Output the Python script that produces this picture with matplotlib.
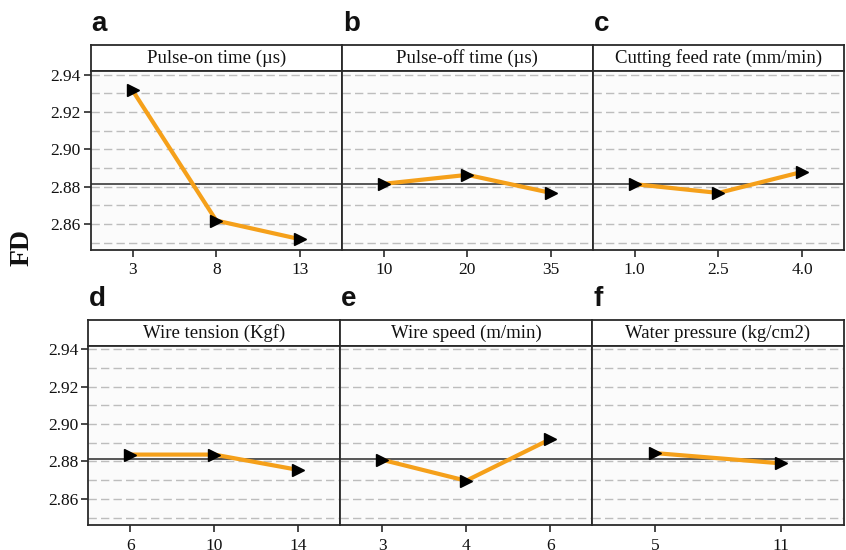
import matplotlib
matplotlib.use("Agg")
import matplotlib.pyplot as plt
import numpy as np

# ---- data ----
titles = ["Pulse-on time (\u00b5s)", "Pulse-off time (\u00b5s)", "Cutting feed rate (mm/min)",
          "Wire tension (Kgf)", "Wire speed (m/min)", "Water pressure (kg/cm2)"]
panel_letters = ["a", "b", "c", "d", "e", "f"]
levels_a = ["3", "8", "13"]
levels_b = ["10", "20", "35"]
levels_c = ["1.0", "2.5", "4.0"]
levels_d = ["6", "10", "14"]
levels_e = ["3", "4", "6"]
levels_f = ["5", "11"]
fd_a = [2.9316, 2.8618, 2.8518]
fd_b = [2.8815, 2.8863, 2.8766]
fd_c = [2.8813, 2.8766, 2.8879]
fd_d = [2.8837, 2.8837, 2.8755]
fd_e = [2.8809, 2.8697, 2.8919]
fd_f = [2.8845, 2.8790]
grand_mean = 2.8813
y_ticks = [2.86, 2.88, 2.90, 2.92, 2.94]
y_grid = [2.85, 2.86, 2.87, 2.88, 2.89, 2.90, 2.91, 2.92, 2.93, 2.94]

levels = [levels_a, levels_b, levels_c, levels_d, levels_e, levels_f]
values = [fd_a, fd_b, fd_c, fd_d, fd_e, fd_f]

W, H = 846, 550
fig = plt.figure(figsize=(W / 100, H / 100), dpi=100)
fig.patch.set_facecolor("white")

serif = ["Liberation Serif", "DejaVu Serif"]
sans = ["Liberation Sans", "DejaVu Sans"]

def px_axes(x0, y0, x1, y1):
    return fig.add_axes([x0 / W, 1 - y1 / H, (x1 - x0) / W, (y1 - y0) / H])

rows = [
    dict(left=90.7, box_top=45, head=71, bottom=250),
    dict(left=88.3, box_top=320, head=345.7, bottom=525),
]
right = 844
edge = "#2a2a2a"

for i in range(6):
    r = rows[i // 3]
    col = i % 3
    pw = (right - r["left"]) / 3
    x0 = r["left"] + col * pw
    x1 = x0 + pw
    # header strip
    hax = px_axes(x0, r["box_top"], x1, r["head"])
    hax.set_xticks([]); hax.set_yticks([])
    hax.set_facecolor("white")
    for s in hax.spines.values():
        s.set_color(edge); s.set_linewidth(1.3)
    hax.text(0.5, 0.5, titles[i], ha="center", va="center", fontsize=13.5,
             family=serif, color="#111111", transform=hax.transAxes)
    # data axes
    ax = px_axes(x0, r["head"], x1, r["bottom"])
    ax.set_facecolor("#fbfbfb")
    for s in ax.spines.values():
        s.set_color(edge); s.set_linewidth(1.3)
    n = len(levels[i])
    xs = np.arange(n)
    ax.set_xlim(-0.5, n - 0.5)
    ax.set_ylim(2.846, 2.942)
    for g in y_grid:
        ax.axhline(g, color="#bdbdbd", lw=1.0, ls=(0, (6, 3)), zorder=1)
    ax.axhline(grand_mean, color="#3a3a3a", lw=1.2, zorder=2)
    ax.plot(xs, values[i], color="#f5a01a", lw=3.0, zorder=3, solid_capstyle="butt")
    ax.plot(xs, values[i], ls="none", marker=">", color="black", markersize=9, zorder=4)
    ax.set_xticks(xs)
    ax.set_xticklabels(levels[i], fontsize=12.5, family=serif, color="#111111")
    ax.tick_params(axis="x", length=5, width=1.2, color=edge, pad=4)
    if col == 0:
        ax.set_yticks(y_ticks)
        ax.set_yticklabels([f"{t:.2f}" for t in y_ticks], fontsize=12.5, family=serif, color="#111111")
        ax.tick_params(axis="y", length=5, width=1.2, color=edge, pad=2)
    else:
        ax.set_yticks([])
    # panel letter
    fig.text((x0 + 1) / W, 1 - (r["box_top"] - 8) / H, panel_letters[i], fontsize=20,
             fontweight="bold", family=sans, ha="left", va="bottom", color="#111111")

fig.text(22 / W, 1 - 248 / H, "FD", rotation=90, fontsize=20, fontweight="bold",
         family=serif, ha="center", va="center", color="#111111")

fig.savefig("out.png", dpi=100)
